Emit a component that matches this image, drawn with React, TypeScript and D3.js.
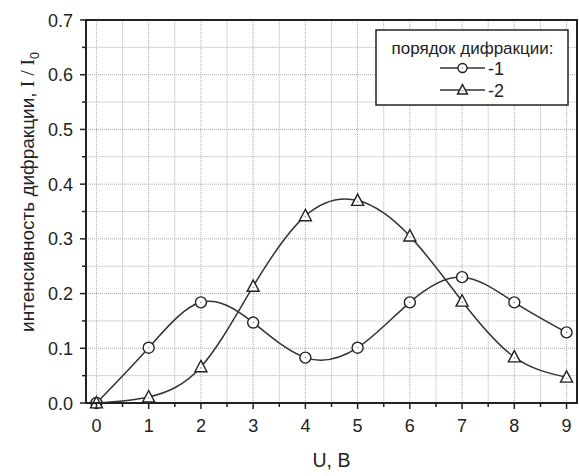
import React from "react";
import * as d3 from "d3";

// Diffraction order intensity vs. voltage
const voltages = [0, 1, 2, 3, 4, 5, 6, 7, 8, 9];
const order1 = [0.0, 0.101, 0.184, 0.147, 0.083, 0.101, 0.184, 0.23, 0.184, 0.129];
const order2 = [0.0, 0.011, 0.066, 0.213, 0.342, 0.37, 0.305, 0.186, 0.084, 0.047];
const xTicks = [0, 1, 2, 3, 4, 5, 6, 7, 8, 9];
const yTicks = [0.0, 0.1, 0.2, 0.3, 0.4, 0.5, 0.6, 0.7];
const legendTitle = "порядок дифракции:";
const seriesNames = ["-1", "-2"];

const W = 579;
const H = 476;
const M = { left: 86, right: 2, top: 20, bottom: 73 };
const FONT = "'Liberation Sans', Arial, sans-serif";
const INK = "#222";

export default function App() {
  const x = d3.scaleLinear().domain([-0.2, 9.2]).range([M.left, W - M.right]);
  const y = d3.scaleLinear().domain([0, 0.7]).range([H - M.bottom, M.top]);
  const [x0, x1] = x.range();
  const [y0, y1] = y.range();

  const minorX = d3.range(0, 9.01, 0.5).filter((v) => Math.abs(v % 1) > 0.01);
  const minorY = d3.range(0.05, 0.7, 0.1);

  const line = d3
    .line<number>()
    .x((_, i) => x(voltages[i]))
    .y((d) => y(d))
    .curve(d3.curveNatural);

  const triangle = (cx: number, cy: number, s: number) => {
    const h = s * 0.9;
    return `M${cx},${cy - h * 0.6}L${cx + s / 2},${cy + h * 0.45}L${cx - s / 2},${cy + h * 0.45}Z`;
  };

  const circleMark = (cx: number, cy: number, r: number, key: string) => (
    <g key={key}>
      <circle cx={cx} cy={cy} r={r} fill="#fff" stroke={INK} strokeWidth={1.4} />
      <circle cx={cx} cy={cy} r={0.8} fill="#888" />
    </g>
  );
  const triMark = (cx: number, cy: number, s: number, key: string) => (
    <g key={key}>
      <path d={triangle(cx, cy, s)} fill="#fff" stroke={INK} strokeWidth={1.4} strokeLinejoin="miter" />
      <circle cx={cx} cy={cy + 1} r={0.8} fill="#888" />
    </g>
  );

  return (
    <svg
      width={W}
      height={H}
      style={{ position: "absolute", left: 0, top: 0, background: "#fff" }}
      fontFamily={FONT}
    >
      <defs>
        <clipPath id="plot-area">
          <rect x={x0} y={y1} width={x1 - x0} height={y0 - y1} />
        </clipPath>
      </defs>

      {/* minor grid */}
      {minorX.map((v) => (
        <line key={"mx" + v} x1={x(v)} x2={x(v)} y1={y1} y2={y0} stroke="#d6d6d6" strokeWidth={1} />
      ))}
      {minorY.map((v) => (
        <line key={"my" + v} x1={x0} x2={x1} y1={y(v)} y2={y(v)} stroke="#d6d6d6" strokeWidth={1} />
      ))}
      {/* major grid */}
      {xTicks.map((v) => (
        <line key={"gx" + v} x1={x(v)} x2={x(v)} y1={y1} y2={y0} stroke="#a8a8a8" strokeWidth={1} strokeDasharray="1,1" />
      ))}
      {yTicks.slice(1, -1).map((v) => (
        <line key={"gy" + v} x1={x0} x2={x1} y1={y(v)} y2={y(v)} stroke="#a8a8a8" strokeWidth={1} strokeDasharray="1,1" />
      ))}

      {/* curves */}
      <g clipPath="url(#plot-area)">
        <path d={line(order1) ?? ""} fill="none" stroke="#333" strokeWidth={1.5} />
        <path d={line(order2) ?? ""} fill="none" stroke="#333" strokeWidth={1.5} />
      </g>

      {/* markers */}
      {order1.map((v, i) => circleMark(x(voltages[i]), y(v), 5.5, "c" + i))}
      {order2.map((v, i) => triMark(x(voltages[i]), y(v), 12, "t" + i))}

      {/* frame */}
      <rect x={x0} y={y1} width={x1 - x0} height={y0 - y1} fill="none" stroke={INK} strokeWidth={2} />

      {/* x ticks */}
      {xTicks.map((v) => (
        <g key={"xt" + v}>
          <line x1={x(v)} x2={x(v)} y1={y0} y2={y0 + 6} stroke={INK} strokeWidth={1.5} />
          <text x={x(v)} y={y0 + 29} textAnchor="middle" fontSize={18} fill={INK}>
            {v}
          </text>
        </g>
      ))}
      {minorX.map((v) => (
        <line key={"xm" + v} x1={x(v)} x2={x(v)} y1={y0} y2={y0 + 4} stroke={INK} strokeWidth={1.5} />
      ))}

      {/* y ticks */}
      {yTicks.map((v) => (
        <g key={"yt" + v}>
          <line x1={x0} x2={x0 - 6} y1={y(v)} y2={y(v)} stroke={INK} strokeWidth={1.5} />
          <text x={x0 - 13} y={y(v) + 6.5} textAnchor="end" fontSize={18} fill={INK}>
            {v.toFixed(1)}
          </text>
        </g>
      ))}
      {minorY.map((v) => (
        <line key={"ym" + v} x1={x0} x2={x0 - 4} y1={y(v)} y2={y(v)} stroke={INK} strokeWidth={1.5} />
      ))}

      {/* axis titles */}
      <text x={(x0 + x1) / 2} y={467} textAnchor="middle" fontSize={19.5} fill={INK}>
        U, B
      </text>
      <text transform="translate(34,192) rotate(-90)" textAnchor="middle" fontSize={19} fill={INK}>
        интенсивность дифракции,{" "}
        <tspan fontFamily="'Liberation Serif', 'Times New Roman', serif" fontSize={19.5}>I / I</tspan>
        <tspan fontSize={12.5} dy={5}>0</tspan>
      </text>

      {/* legend */}
      <g>
        <rect x={376} y={30} width={192} height={75} fill="#fff" stroke={INK} strokeWidth={1.5} />
        <text x={472.5} y={54} textAnchor="middle" fontSize={17} fill={INK}>
          {legendTitle}
        </text>
        {seriesNames.map((name, i) => {
          const ly = 68 + i * 22;
          return (
            <g key={"lg" + i}>
              <line x1={440} x2={485} y1={ly} y2={ly} stroke="#333" strokeWidth={1.5} />
              {i === 0 ? circleMark(462.5, ly, 4.5, "lc") : triMark(462.5, ly, 10, "lt")}
              <text x={488} y={ly + 7} fontSize={18} fill={INK}>
                {name}
              </text>
            </g>
          );
        })}
      </g>
    </svg>
  );
}
